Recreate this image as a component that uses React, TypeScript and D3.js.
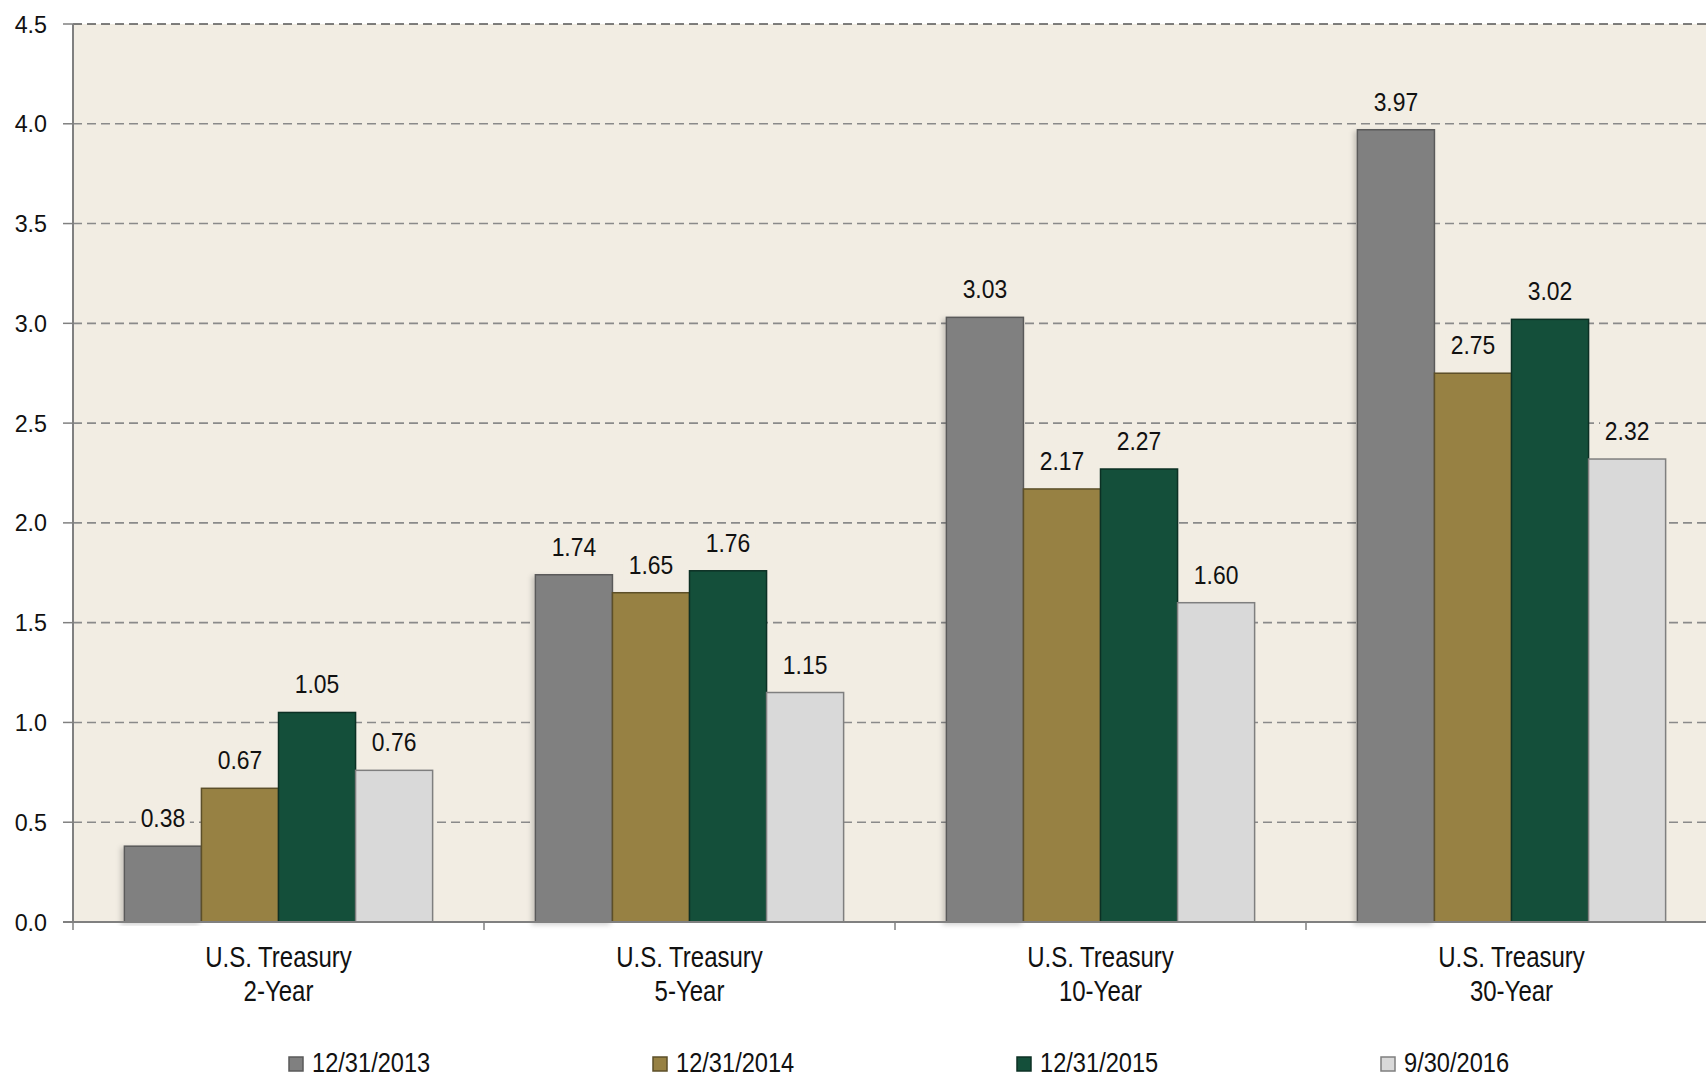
import React from "react";
import * as d3 from "d3";

const categories = ["U.S. Treasury\n2-Year", "U.S. Treasury\n5-Year", "U.S. Treasury\n10-Year", "U.S. Treasury\n30-Year"];
const seriesNames = ["12/31/2013", "12/31/2014", "12/31/2015", "9/30/2016"];
const s2013 = [0.38, 1.74, 3.03, 3.97];
const s2014 = [0.67, 1.65, 2.17, 2.75];
const s2015 = [1.05, 1.76, 2.27, 3.02];
const s2016 = [0.76, 1.15, 1.6, 2.32];
const yTicks = [0, 0.5, 1, 1.5, 2, 2.5, 3, 3.5, 4, 4.5];

const fills = ["#808080", "#978143", "#144f3a", "#d9d9d9"];
const strokes = ["#5a5a5a", "#5c4f29", "#0c3024", "#7f7f7f"];
const FONT = "'Liberation Sans', Arial, sans-serif";

function T({ x, y, sx, size, anchor, children }: any) {
  return (
    <text transform={`translate(${x},${y}) scale(${sx},1)`} textAnchor={anchor} fontSize={size} fill="#111">
      {children}
    </text>
  );
}

export default function App() {
  const W = 1706, H = 1077;
  const left = 73, right = 1717, top = 24, bottom = 922;
  const series = [s2013, s2014, s2015, s2016];
  const x0 = d3.scaleBand<number>().domain(categories.map((_, i) => i)).range([left, right]).paddingInner(0).paddingOuter(0);
  const bw = x0.bandwidth();
  const x1 = d3.scaleBand<number>().domain([0, 1, 2, 3]).range([bw * 0.125, bw * 0.875]).padding(0);
  const y = d3.scaleLinear().domain([0, 4.5]).range([bottom, top]);
  const bg = "#f2ede3";

  return (
    <svg width={W} height={H} style={{ position: "absolute", left: 0, top: 0, background: "#fff" }} fontFamily={FONT}>
      <defs>
        <filter id="sh" x="-20%" y="-5%" width="140%" height="110%">
          <feDropShadow dx="-3" dy="2" stdDeviation="2.5" floodColor="#000" floodOpacity="0.18" />
        </filter>
      </defs>
      <rect x={left} y={top} width={right - left} height={bottom - top} fill={bg} />
      {yTicks.map((t) => (
        <g key={t}>
          <line x1={left - 10} x2={left} y1={y(t)} y2={y(t)} stroke="#808080" strokeWidth={1.5} />
          {t > 0 && (
            <line x1={left} x2={right} y1={y(t)} y2={y(t)} stroke={t === 4.5 ? "#555" : "#8a8a8a"} strokeWidth={1.6} strokeDasharray="9,5" />
          )}
          <T x={47} y={y(t) + 8.6} sx={0.97} size={24} anchor="end">{t.toFixed(1)}</T>
        </g>
      ))}
      {categories.map((c, ci) => (
        <g key={ci}>
          {series.map((s, si) => (
            <rect key={si} x={(x0(ci) as number) + (x1(si) as number)} y={y(s[ci])} width={x1.bandwidth()} height={bottom - y(s[ci])}
              fill={fills[si]} stroke={strokes[si]} strokeWidth={1.5} filter={si === 0 ? "url(#sh)" : undefined} />
          ))}
        </g>
      ))}
      {categories.map((c, ci) => (
        <g key={"l" + ci}>
          {series.map((s, si) => {
            const cx = (x0(ci) as number) + (x1(si) as number) + x1.bandwidth() / 2;
            const by = y(s[ci]) - 19;
            return (
              <g key={si}>
                <rect x={cx - 27} y={by - 22} width={54} height={28} fill={bg} />
                <T x={cx} y={by} sx={0.88} size={26} anchor="middle">{s[ci].toFixed(2)}</T>
              </g>
            );
          })}
        </g>
      ))}
      <line x1={left} x2={left} y1={top} y2={bottom} stroke="#808080" strokeWidth={2} />
      <line x1={left - 10} x2={right} y1={bottom} y2={bottom} stroke="#808080" strokeWidth={2} />
      {categories.map((c, ci) => (
        <line key={"t" + ci} x1={x0(ci) as number} x2={x0(ci) as number} y1={bottom} y2={bottom + 8} stroke="#808080" strokeWidth={1.5} />
      ))}
      {categories.map((c, ci) => {
        const cx = (x0(ci) as number) + bw / 2;
        return c.split("\n").map((line, li) => (
          <T key={ci + "-" + li} x={cx} y={967 + li * 34} sx={0.8} size={30} anchor="middle">{line}</T>
        ));
      })}
      {seriesNames.map((n, i) => {
        const lx = 289 + i * 364;
        return (
          <g key={n}>
            <rect x={lx} y={1057} width={14} height={14} fill={fills[i]} stroke={strokes[i]} strokeWidth={1.5} />
            <T x={lx + 23} y={1072} sx={0.86} size={27.5} anchor="start">{n}</T>
          </g>
        );
      })}
    </svg>
  );
}
